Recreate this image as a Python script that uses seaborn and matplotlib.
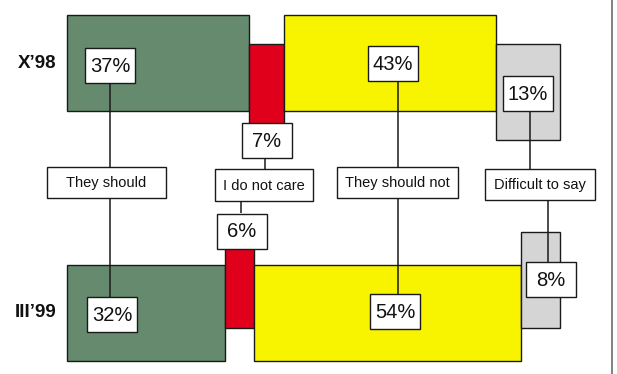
import numpy as np
import matplotlib
matplotlib.use("Agg")
import matplotlib.pyplot as plt
from matplotlib.patches import Rectangle
import seaborn as sns

# ---- data ----
periods = ["X\u201998", "III\u201999"]
categories = ["They should", "I do not care", "They should not", "Difficult to say"]
values_x98 = [37, 7, 43, 13]
values_iii99 = [32, 6, 54, 8]
colors = ["#658A6D", "#E1001C", "#F8F400", "#D5D5D5"]

sns.set_theme(style="white")
plt.rcParams["font.family"] = ["Liberation Sans", "DejaVu Sans"]

W, H = 617, 374
fig = plt.figure(figsize=(W / 100, H / 100), dpi=100)
ax = fig.add_axes([0, 0, 1, 1])

# axis: x in percent, y in pixel-like layout units (top = 0)
X0, PXP = 67.0, 4.93          # pixel of 0 %, pixels per percent
ax.set_xlim(-X0 / PXP, (W - X0) / PXP)
ax.set_ylim(H, 0)
ax.axis("off")


def dx(px):
    return (px - X0) / PXP


EDGE = "#1a1a1a"
BAR_H = 96
# vertical centers: (large segments, small segments) for each period
centers = {0: (63, 92), 1: (313, 280)}
all_vals = [values_x98, values_iii99]

for pi, vals in enumerate(all_vals):
    lefts = np.concatenate([[0], np.cumsum(vals)[:-1]])
    big_c, small_c = centers[pi]
    for ci, (v, l) in enumerate(zip(vals, lefts)):
        yc = big_c if ci in (0, 2) else small_c
        ax.barh(yc, v, left=l, height=BAR_H, color=colors[ci],
                edgecolor=EDGE, linewidth=1.0, zorder=1)

# period labels
ax.text(dx(56), 63.5, periods[0], ha="right", va="center",
        fontsize=13.5, fontweight="bold", color="#111111")
ax.text(dx(56), 312.5, periods[1], ha="right", va="center",
        fontsize=13.5, fontweight="bold", color="#111111")


def box(cx, cy, w, h, text, fs):
    ax.add_patch(Rectangle((dx(cx - w / 2), cy - h / 2), w / PXP, h,
                           facecolor="white", edgecolor=EDGE,
                           linewidth=1.0, zorder=3))
    ax.text(dx(cx), cy + 0.8, text, ha="center", va="center",
            fontsize=fs, color="#111111", zorder=4)


def vline(x, y0, y1):
    ax.plot([dx(x), dx(x)], [y0, y1], color=EDGE, lw=1.1, zorder=2,
            solid_capstyle="butt")


# connector lines
vline(110, 83, 297)
vline(265, 158, 169)
vline(241, 201, 213)
vline(398, 81, 294)
vline(530, 111, 169)
vline(548, 200, 262)

# percentage boxes (layout positions in pixels)
pct_pos_x98 = [(110, 65.5), (267, 140.5), (393, 63.5), (528, 93.5)]
pct_pos_iii99 = [(112, 314.5), (242, 231), (395, 311.5), (551, 279.5)]
for (cx, cy), v in zip(pct_pos_x98, values_x98):
    box(cx, cy, 50, 35, f"{v}%", 14.5)
for (cx, cy), v in zip(pct_pos_iii99, values_iii99):
    box(cx, cy, 50, 35, f"{v}%", 14.5)

# category boxes
cat_boxes = [(106.5, 182.5, 119, 31), (264, 185, 98, 32),
             (397.5, 182.5, 121, 31), (540, 184.5, 110, 31)]
for (cx, cy, w, h), c in zip(cat_boxes, categories):
    box(cx, cy, w, h, c, 10.5)

# right border line
ax.plot([dx(612), dx(612)], [0, H], color="#777777", lw=1.3, zorder=1)

fig.savefig("out.png", dpi=100)
